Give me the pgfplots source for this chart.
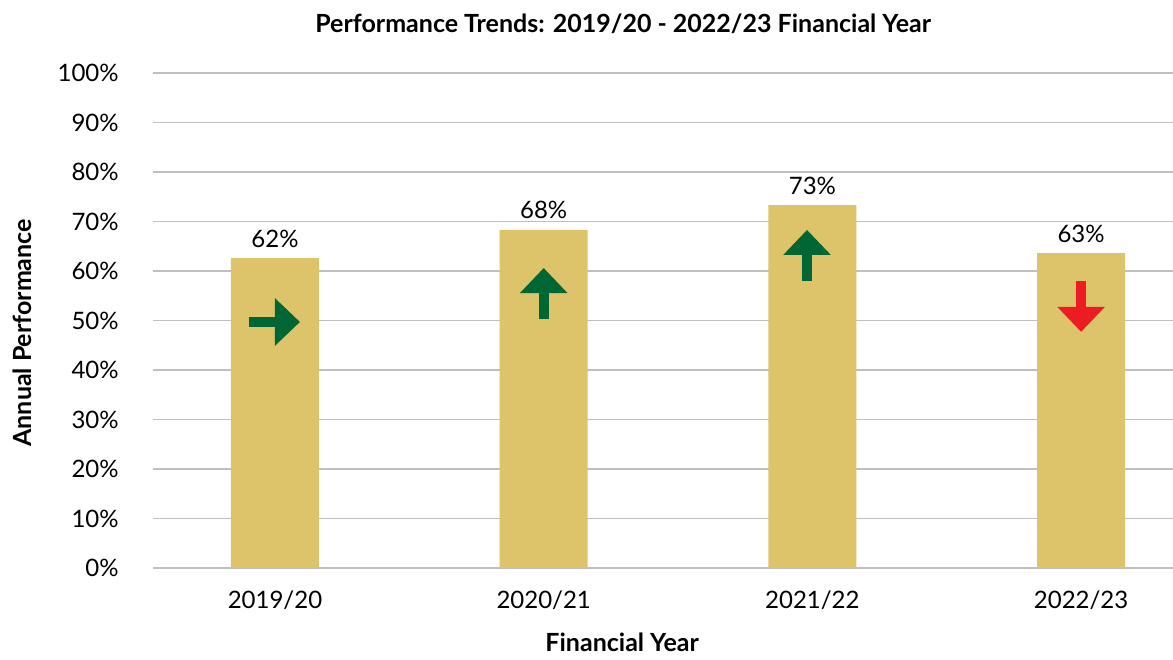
\documentclass[border=0pt]{standalone}
\usepackage{pgfplots}
\pgfplotsset{compat=1.18}
\usepackage{fontspec}
\setmainfont{Lato}
\usetikzlibrary{arrows.meta}
\definecolor{barcol}{HTML}{DDC36A}
\definecolor{upgreen}{HTML}{006633}
\definecolor{downred}{HTML}{ED1C24}
\definecolor{gridcol}{HTML}{BFBFBF}
\begin{document}
\begin{tikzpicture}
\begin{axis}[name=ax, scale only axis, width=510pt, height=247.5pt,
  xmin=-0.454, xmax=3.342, ymin=0, ymax=100,
  axis line style={draw=none}, major tick length=0pt,
  ytick={0,10,...,100},
  yticklabels={0\%,10\%,20\%,30\%,40\%,50\%,60\%,70\%,80\%,90\%,100\%},
  ymajorgrids, grid style={gridcol, line width=0.9pt},
  xtick={0,1,2,3}, xticklabels={2019/20,2020/21,2021/22,2022/23},
  x tick label style={anchor=base, yshift=-20pt, inner sep=0pt, font=\fontsize{12}{14}\selectfont},
  y tick label style={anchor=east, xshift=-17pt, inner sep=0pt, font=\fontsize{12}{14}\selectfont},
  title={Performance Trends: 2019/20 - 2022/23 Financial Year},
  title style={at={(axis description cs:0.461,1)}, anchor=base, yshift=14pt, inner sep=0pt, font=\bfseries\fontsize{12.5}{15}\selectfont},
  xlabel={Financial Year},
  xlabel style={at={(axis description cs:0.46,0)}, anchor=base, yshift=-41.5pt, inner sep=0pt, font=\bfseries\fontsize{12.5}{15}\selectfont},
  ylabel={Annual Performance},
  ylabel style={at={(axis description cs:-0.1284,0.475)}, anchor=center, inner sep=0pt, font=\bfseries\fontsize{12.5}{15}\selectfont},
]
\addplot[ybar, bar width=44pt, fill=barcol, draw=none,
  point meta=explicit symbolic,
  nodes near coords={\pgfplotspointmeta\%},
  nodes near coords style={anchor=base, yshift=5.5pt, inner sep=0pt, font=\fontsize{12}{14}\selectfont, text=black}]
  table[meta=lab] {
x y lab
0 62.6 62
1 68.3 68
2 73.3 73
3 63.6 63
};
\addplot[quiver={u=\thisrow{u},v=\thisrow{v}}, draw=upgreen, line width=5pt,
  -{Triangle[width=23pt,length=12.5pt]}] table {
x y u v
-0.097 49.7 0.19 0
1 50.3 0 10.3
1.98 58 0 10.3
};
\addplot[quiver={u=\thisrow{u},v=\thisrow{v}}, draw=downred, line width=5pt,
  -{Triangle[width=23pt,length=12.5pt]}] table {
x y u v
3 58 0 -10.3
};
\end{axis}
\pgfresetboundingbox
\path (ax.south west) ++(-76.5pt,-45.5pt) rectangle ([yshift=36.5pt]ax.north east);
\end{tikzpicture}
\end{document}
